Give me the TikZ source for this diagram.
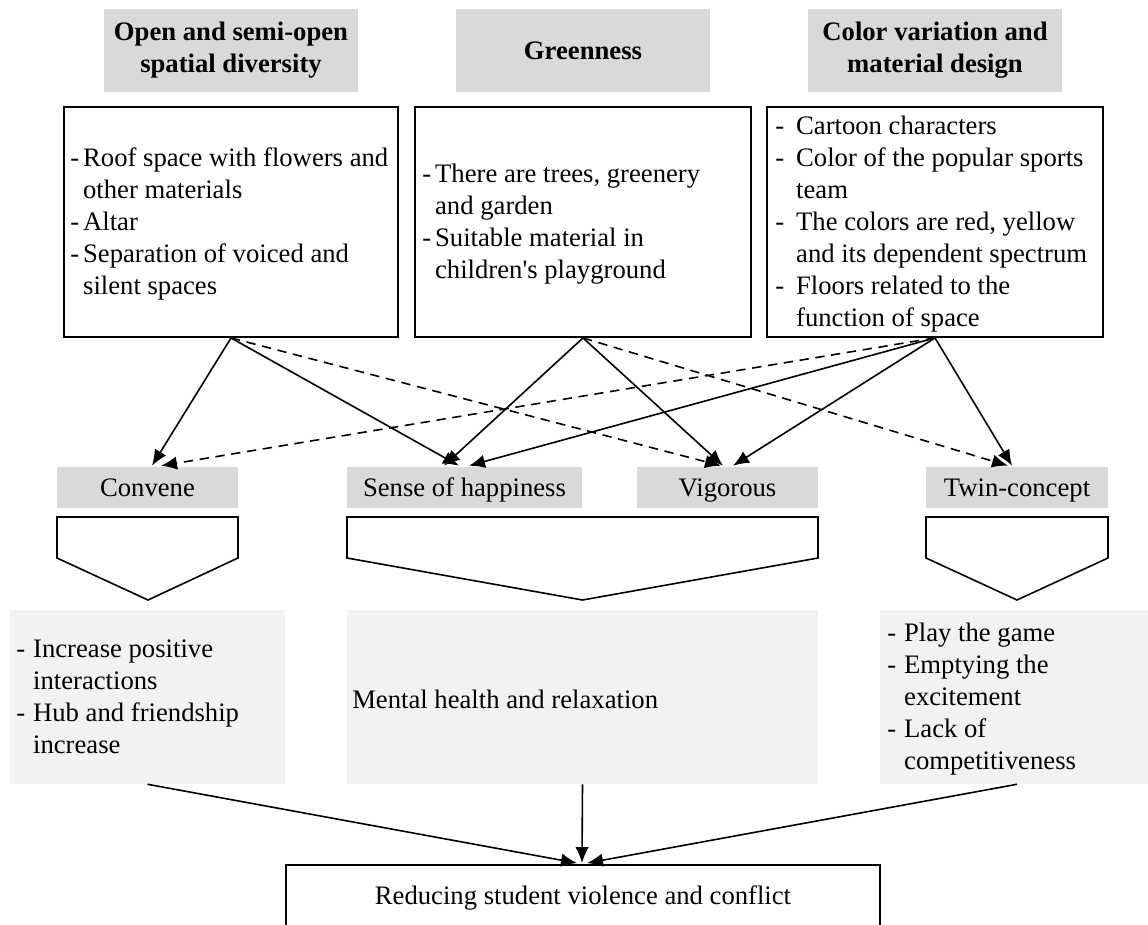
\documentclass[tikz,border=0pt]{standalone}
\usepackage{fontspec}
\setmainfont{Liberation Serif}[Ligatures=TeXOff]
\usetikzlibrary{arrows.meta,calc}
\definecolor{hdrgray}{HTML}{D9D9D9}
\definecolor{effgray}{HTML}{F2F2F2}
\newcommand{\dashlist}[2]{\begin{tabular}{@{}l@{\hspace{#1}}l@{}}#2\end{tabular}}
\begin{document}
\begin{tikzpicture}[x=0.75pt,y=-0.75pt,
  every node/.style={font=\fontsize{20pt}{24pt}\selectfont},
  hdr/.style={fill=hdrgray, inner sep=0, align=center, minimum width=190.5pt, minimum height=62.25pt,
    font=\fontsize{20pt}{24pt}\selectfont\bfseries},
  cbox/.style={draw, line width=1.4pt, fill=white, inner sep=0, minimum height=172.5pt},
  lbl/.style={fill=hdrgray, inner sep=0, minimum height=30.75pt, text height=18pt, text depth=4pt},
  eff/.style={fill=effgray, inner sep=0, minimum height=130.5pt},
  txt/.style={inner sep=0, anchor=west, align=left},
  pent/.style={draw, line width=1.2pt, fill=white, line join=miter},
  arr/.style={-{Latex[length=12pt,width=10pt]}, line width=1.2pt},
  darr/.style={arr, dash pattern=on 7pt off 5pt}]
\useasboundingbox (0,0) rectangle (1148,924);
\fill[white] (0,0) rectangle (1148,924);

% headers
\node[hdr] (h1) at (231,50.5) {Open and semi-open\\spatial diversity};
\node[hdr] (h2) at (583,50.5) {Greenness};
\node[hdr] (h3) at (935,50.5) {Color variation and\\material design};

% content boxes
\node[cbox, minimum width=250.5pt] (b1) at (231,222) {};
\node[cbox, minimum width=252pt] (b2) at (583,222) {};
\node[cbox, minimum width=252pt] (b3) at (935,222) {};

\node[txt] (b1t) at (70,224) {\dashlist{3pt}{-&Roof space with flowers and\\&other materials\\-&Altar\\-&Separation of voiced and\\&silent spaces}};
\node[txt] (b2t) at (422,224) {\dashlist{3pt}{-&There are trees, greenery\\&and garden\\-&Suitable material in\\&children's playground}};
\node[txt] (b3t) at (775,224) {\dashlist{9pt}{-&Cartoon characters\\-&Color of the popular sports\\&team\\-&The colors are red, yellow\\&and its dependent spectrum\\-&Floors related to the\\&function of space}};

% labels
\node[lbl, minimum width=135.75pt] (conv) at (147.5,487.5) {Convene};
\node[lbl, minimum width=176.25pt] (sense) at (464.5,487.5) {Sense of happiness};
\node[lbl, minimum width=135.75pt] (vig) at (727.5,487.5) {Vigorous};
\node[lbl, minimum width=136.5pt] (twin) at (1017,487.5) {Twin-concept};

% pentagon arrows
\draw[pent] (57,517) -- (238,517) -- (238,558) -- (148,600) -- (57,558) -- cycle;
\draw[pent] (347,517) -- (818,517) -- (818,558) -- (582.5,600) -- (347,558) -- cycle;
\draw[pent] (926,517) -- (1108,517) -- (1108,558) -- (1017,600) -- (926,558) -- cycle;

% effect boxes
\node[eff, minimum width=206.25pt] (e1) at (147.5,697) {};
\node[eff, minimum width=353.25pt] (e2) at (582.5,697) {};
\node[eff, minimum width=201pt] (e3) at (1014,697) {};
\node[txt] (e1t) at (16,699) {\dashlist{6pt}{-&Increase positive\\&interactions\\-&Hub and friendship\\&increase}};
\node[txt] (e2t) at (352,699) {Mental health and relaxation};
\node[txt] (e3t) at (887,699) {\dashlist{6pt}{-&Play the game\\-&Emptying the\\&excitement\\-&Lack of\\&competitiveness}};

% final box
\node[draw, line width=1.4pt, fill=white, inner sep=0, minimum width=445.5pt, minimum height=48.75pt] (final) at (583,897.5) {Reducing student violence and conflict};

% arrows from B1
\draw[arr] (b1.south) -- ($(conv.north)+(4.5,-1)$);
\draw[arr] (b1.south) -- ($(sense.north)+(-5.5,-1)$);
\draw[darr] (b1.south) -- ($(vig.north)+(-6.5,-1)$);
% arrows from B2
\draw[arr] (b2.south) -- ($(sense.north)+(-20.5,-1)$);
\draw[arr] (b2.south) -- ($(vig.north)+(-4.5,-1)$);
\draw[darr] (b2.south) -- ($(twin.north)+(-9,-1)$);
% arrows from B3
\draw[darr] (b3.south) -- ($(conv.north)+(13.5,-1)$);
\draw[arr] (b3.south) -- ($(sense.north)+(4.5,-1)$);
\draw[arr] (b3.south) -- ($(vig.north)+(5.5,-1)$);
\draw[arr] (b3.south) -- ($(twin.north)+(-5,-1)$);

% arrows to final
\draw[arr] (e1.south) -- ($(final.north)+(-6,-1)$);
\draw[arr] (e2.south) -- ($(final.north)+(-1,-1)$);
\draw[arr] ($(e3.south)+(3,0)$) -- ($(final.north)+(4,-1)$);
\end{tikzpicture}
\end{document}
